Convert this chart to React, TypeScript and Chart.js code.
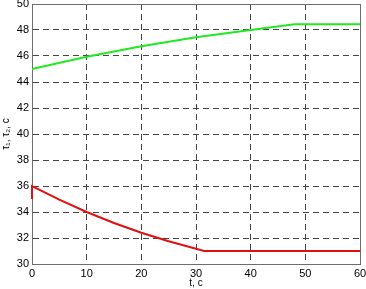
import React, { useEffect, useRef } from "react";
import { Chart, registerables } from "chart.js";

Chart.register(...registerables);

const redTime = [0, 0, 5, 10, 15, 20, 25, 31.5, 60];
const redValues = [35, 36, 34.95, 34.0, 33.15, 32.4, 31.75, 31.0, 31.0];
const greenTime = [0, 10, 20, 30, 40, 48, 60];
const greenValues = [45, 45.95, 46.75, 47.45, 48.0, 48.45, 48.45];
const xTicks = [0, 10, 20, 30, 40, 50, 60];
const yTicks = [30, 32, 34, 36, 38, 40, 42, 44, 46, 48, 50];

const framePlugin = {
  id: "frame",
  beforeDatasetsDraw(chart: any) {
    const { ctx, chartArea } = chart;
    ctx.save();
    ctx.strokeStyle = "#6e6e6e";
    ctx.lineWidth = 1;
    ctx.setLineDash([]);
    ctx.strokeRect(
      Math.round(chartArea.left) + 0.5,
      Math.round(chartArea.top) + 0.5,
      Math.round(chartArea.right - chartArea.left),
      Math.round(chartArea.bottom - chartArea.top)
    );
    ctx.restore();
  },
};

export default function App() {
  const ref = useRef<HTMLCanvasElement>(null);
  useEffect(() => {
    if (!ref.current) return;
    const font = { family: "Liberation Sans, Arial, sans-serif", size: 11 };
    const chart = new Chart(ref.current, {
      type: "line",
      data: {
        datasets: [
          {
            data: greenTime.map((t, i) => ({ x: t, y: greenValues[i] })),
            borderColor: "#22e822",
            borderWidth: 2,
            pointRadius: 0,
            tension: 0,
            clip: 4,
          },
          {
            data: redTime.map((t, i) => ({ x: t, y: redValues[i] })),
            borderColor: "#e01010",
            borderWidth: 2,
            pointRadius: 0,
            tension: 0,
            clip: 4,
          },
        ],
      },
      options: {
        animation: false,
        responsive: false,
        layout: { padding: { top: 4, right: 6, left: 0, bottom: 0 } },
        plugins: { legend: { display: false }, tooltip: { enabled: false } },
        scales: {
          x: {
            type: "linear",
            min: 0,
            max: 60,
            afterBuildTicks: (s: any) => {
              s.ticks = xTicks.map((v) => ({ value: v }));
            },
            afterFit: (s: any) => {
              s.height = 25;
              s.paddingRight = 0;
              s.paddingLeft = 0;
            },
            ticks: { color: "#000", font, padding: 3, maxRotation: 0 },
            grid: { color: "#444", drawTicks: false, lineWidth: 1 },
            border: { dash: [6, 4], color: "#6e6e6e" },
            title: { display: true, text: "t, c", color: "#000", font: { ...font, size: 10 }, padding: { top: 0, bottom: 0 } },
          },
          y: {
            type: "linear",
            min: 30,
            max: 50,
            afterBuildTicks: (s: any) => {
              s.ticks = yTicks.map((v) => ({ value: v }));
            },
            afterFit: (s: any) => {
              s.width = 32;
              s.paddingTop = 0;
              s.paddingBottom = 0;
            },
            ticks: { color: "#000", font, padding: 3 },
            grid: { color: "#444", drawTicks: false, lineWidth: 1 },
            border: { dash: [6, 4], color: "#6e6e6e" },
            title: { display: true, text: "τ₁, τ₂, c", color: "#000", font: { ...font, size: 10 }, padding: { top: 0, bottom: 0 } },
          },
        },
      },
      plugins: [framePlugin],
    });
    return () => chart.destroy();
  }, []);
  return (
    <div style={{ position: "absolute", left: 0, top: 0, width: 366, height: 289, background: "#fff" }}>
      <canvas ref={ref} width={366} height={289} />
    </div>
  );
}
